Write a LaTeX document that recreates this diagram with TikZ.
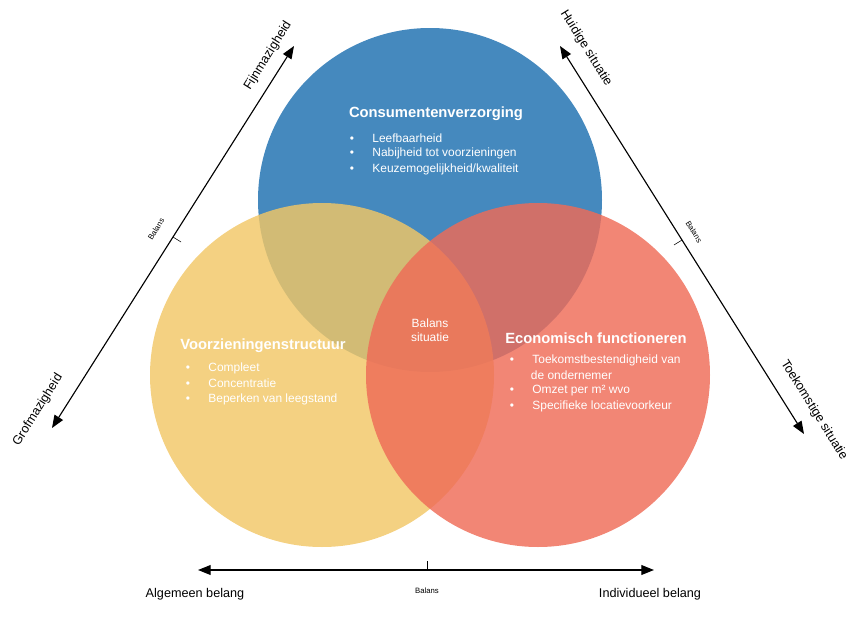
\documentclass[tikz,border=0pt]{standalone}
\usepackage{fontspec}
\setmainfont{Liberation Sans}
\usetikzlibrary{positioning,arrows.meta,calc}
\definecolor{venblauw}{HTML}{4589BE}
\definecolor{vengeel}{HTML}{F2C766}
\definecolor{venrood}{HTML}{EF6B57}
\tikzset{
  cirkel/.style={fill=#1, fill opacity=0.82},
  titel/.style={text=white, font=\bfseries\fontsize{10.5}{12}\selectfont},
  punt/.style={text=white, anchor=west, font=\fontsize{8.5}{10}\selectfont},
  as/.style={thick, {Triangle[length=9pt,width=7pt]}-{Triangle[length=9pt,width=7pt]}},
  klein/.style={font=\fontsize{5.5}{6}\selectfont},
  aslabel/.style={font=\fontsize{9}{10}\selectfont}
}
\begin{document}
\begin{tikzpicture}[x=0.025cm, y=-0.025cm]
\useasboundingbox (0,0) rectangle (857,618);
% Cirkels
\fill[venblauw] (430,200) circle (172);
\fill[cirkel=vengeel] (322,375) circle (172);
\fill[cirkel=venrood] (538,375) circle (172);

% Consumentenverzorging
\node[titel] (cons) at (436,114) {Consumentenverzorging};
\foreach \t [count=\i] in {Leefbaarheid, Nabijheid tot voorzieningen, Keuzemogelijkheid/kwaliteit}
  \node[punt] (cons\i) at (345,138+15.5*\i-15.5) {\textbullet\hspace{13pt}\t};

% Voorzieningenstructuur
\node[titel] (voorz) at (263,346) {Voorzieningenstructuur};
\foreach \t [count=\i] in {Compleet, Concentratie, Beperken van leegstand}
  \node[punt] (voorz\i) at (181,368+15.5*\i-15.5) {\textbullet\hspace{13pt}\t};

% Economisch functioneren
\node[titel] (econ) at (596,338) {Economisch functioneren};
\node[punt] (econ1) at (505,360) {\textbullet\hspace{13pt}Toekomstbestendigheid van};
\node[punt] (econ1b) at (526,375) {de ondernemer};
\node[punt] (econ2) at (505,391) {\textbullet\hspace{13pt}Omzet per m² wvo};
\node[punt] (econ3) at (505,406) {\textbullet\hspace{13pt}Specifieke locatievoorkeur};

% Midden
\node[punt, anchor=center, align=center] (mid) at (430,330) {Balans\\situatie};

% Assen
\coordinate (lo) at (52,428);
\coordinate (lb) at (294,46);
\draw[as] (lo) -- (lb);
\draw ($(lo)!0.5!(lb)$) coordinate (lm) -- ++(8,5);
\node[aslabel, rotate=58] (fijn) at (268,56) {Fijnmazigheid};
\node[aslabel, rotate=58] (grof) at (38,410) {Grofmazigheid};
\node[klein, rotate=58] (lbal) at (156,229) {Balans};

\coordinate (rb) at (560,46);
\coordinate (ro) at (804,434);
\draw[as] (rb) -- (ro);
\draw ($(rb)!0.5!(ro)$) coordinate (rm) -- ++(-8,5);
\node[aslabel, rotate=-58] (huid) at (586,48) {Huidige situatie};
\node[aslabel, rotate=-58] (toek) at (814,410) {Toekomstige situatie};
\node[klein, rotate=-58] (rbal) at (694,232) {Balans};

\coordinate (ol) at (198,570);
\coordinate (or) at (654,570);
\draw[as] (ol) -- (or);
\draw (427,570) coordinate (om) -- ++(0,-9);
\node[klein] (obal) at (427,591) {Balans};
\node[aslabel] (alg) at (195,594) {Algemeen belang};
\node[aslabel] (ind) at (650,594) {Individueel belang};
\end{tikzpicture}
\end{document}
